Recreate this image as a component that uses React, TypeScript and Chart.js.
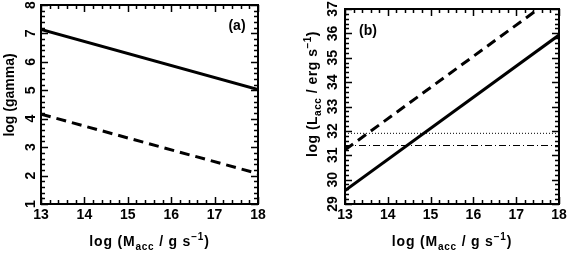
import React, { useEffect, useRef } from "react";
import { Chart, registerables } from "chart.js";
Chart.register(...registerables);

// ---- data ----
const massRate = [13, 18];
const gammaSolid = [7.14, 5.03];
const gammaDashed = [4.16, 2.07];
const lumSolid = [29.55, 35.93];
const lumDashed = [31.22, 37.62];
const lumDotted = [31.9, 31.9];
const lumDashDot = [31.4, 31.4];
const xTickLabels = [13, 14, 15, 16, 17, 18];
const gammaTickLabels = [1, 2, 3, 4, 5, 6, 7, 8];
const lumTickLabels = [29, 30, 31, 32, 33, 34, 35, 36, 37];

const W = 569;
const H = 254;
const FONT = "'Liberation Sans', Arial, sans-serif";

type Seg = { t: string; s?: number; dy?: number };

const xTitle: Seg[] = [
  { t: "log (M" },
  { t: "acc", s: 10, dy: 4 },
  { t: " / g s" },
  { t: "\u22121", s: 10, dy: -6 },
  { t: ")" },
];
const gammaTitle: Seg[] = [{ t: "log (gamma)" }];
const lumTitle: Seg[] = [
  { t: "log (L" },
  { t: "acc", s: 10, dy: 4 },
  { t: " / erg s" },
  { t: "\u22121", s: 10, dy: -6 },
  { t: ")" },
];

function drawRich(ctx: CanvasRenderingContext2D, segs: Seg[], cx: number, cy: number, spacing: number) {
  ctx.textBaseline = "alphabetic";
  ctx.textAlign = "left";
  (ctx as any).letterSpacing = `${spacing}px`;
  let total = 0;
  for (const s of segs) {
    ctx.font = `bold ${s.s ?? 14}px ${FONT}`;
    total += ctx.measureText(s.t).width;
  }
  let x = cx - total / 2;
  for (const s of segs) {
    ctx.font = `bold ${s.s ?? 14}px ${FONT}`;
    ctx.fillText(s.t, x, cy + 5 + (s.dy ?? 0));
    x += ctx.measureText(s.t).width;
  }
  (ctx as any).letterSpacing = "0px";
}

type PanelCfg = {
  yTicks: number[];
  yMin: number;
  yMax: number;
  yTitle: Seg[];
  yTitlePos: [number, number];
  yTitleSpacing: number;
  yLabelX: number;
  label: string;
  labelPos: [number, number];
};

function makePlugin(cfg: PanelCfg) {
  return {
    id: "frameAxes",
    afterDatasetsDraw(chart: any) {
      const ctx: CanvasRenderingContext2D = chart.ctx;
      const xs = chart.scales.x;
      const ys = chart.scales.y;
      const { left, right, top, bottom } = chart.chartArea;
      ctx.save();
      ctx.strokeStyle = "#000";
      ctx.fillStyle = "#000";
      // frame
      ctx.lineWidth = 2;
      ctx.strokeRect(left, top, right - left, bottom - top);
      // ticks
      ctx.lineWidth = 1.5;
      const major = 7;
      const minor = 4;
      const x0 = xTickLabels[0];
      const x1 = xTickLabels[xTickLabels.length - 1];
      const nx = Math.round((x1 - x0) / 0.2);
      ctx.beginPath();
      for (let i = 0; i <= nx; i++) {
        const v = x0 + i * 0.2;
        const len = i % 5 === 0 ? major : minor;
        const px = Math.round(xs.getPixelForValue(v)) + 0.5;
        ctx.moveTo(px, bottom);
        ctx.lineTo(px, bottom - len);
        ctx.moveTo(px, top);
        ctx.lineTo(px, top + len);
      }
      const ny = Math.round((cfg.yMax - cfg.yMin) / 0.2);
      for (let i = 0; i <= ny; i++) {
        const v = cfg.yMin + i * 0.2;
        const len = i % 5 === 0 ? major : minor;
        const py = Math.round(ys.getPixelForValue(v)) + 0.5;
        ctx.moveTo(left, py);
        ctx.lineTo(left + len, py);
        ctx.moveTo(right, py);
        ctx.lineTo(right - len, py);
      }
      ctx.stroke();
      // x tick labels
      ctx.font = `bold 14px ${FONT}`;
      ctx.textAlign = "center";
      ctx.textBaseline = "middle";
      for (const v of xTickLabels) {
        ctx.fillText(String(v), xs.getPixelForValue(v), bottom + 11);
      }
      // y tick labels (rotated)
      for (const v of cfg.yTicks) {
        const py = ys.getPixelForValue(v);
        ctx.save();
        ctx.translate(cfg.yLabelX, py);
        ctx.rotate(-Math.PI / 2);
        ctx.textAlign = "center";
        ctx.textBaseline = "middle";
        ctx.fillText(String(v), 0, 0);
        ctx.restore();
      }
      // x title
      drawRich(ctx, xTitle, (left + right) / 2, 241, 0.8);
      // y title
      ctx.save();
      ctx.translate(cfg.yTitlePos[0], cfg.yTitlePos[1]);
      ctx.rotate(-Math.PI / 2);
      drawRich(ctx, cfg.yTitle, 0, 0, cfg.yTitleSpacing);
      ctx.restore();
      // panel label
      ctx.font = `bold 14px ${FONT}`;
      ctx.textAlign = "center";
      ctx.textBaseline = "middle";
      ctx.fillText(cfg.label, cfg.labelPos[0], cfg.labelPos[1]);
      ctx.restore();
    },
  };
}

function pts(ys: number[]) {
  return massRate.map((x, i) => ({ x, y: ys[i] }));
}

function lineDs(ys: number[], width: number, dash: number[]) {
  return {
    data: pts(ys),
    borderColor: "#000",
    borderWidth: width,
    borderDash: dash,
    borderCapStyle: "butt",
    pointRadius: 0,
    fill: false,
    tension: 0,
  };
}

function baseOptions(pad: any, yMin: number, yMax: number) {
  return {
    responsive: false,
    animation: false,
    devicePixelRatio: 1,
    layout: { padding: pad },
    plugins: { legend: { display: false }, tooltip: { enabled: false } },
    scales: {
      x: { type: "linear", min: 13, max: 18, display: false },
      y: { type: "linear", min: yMin, max: yMax, display: false },
    },
  };
}

export default function App() {
  const refA = useRef<HTMLCanvasElement>(null);
  const refB = useRef<HTMLCanvasElement>(null);

  useEffect(() => {
    const a = new Chart(refA.current as HTMLCanvasElement, {
      type: "line",
      data: {
        datasets: [lineDs(gammaSolid, 3, []), lineDs(gammaDashed, 3, [10, 6])] as any,
      },
      options: baseOptions({ left: 41, right: W - 258, top: 5, bottom: H - 204 }, 1, 8) as any,
      plugins: [
        makePlugin({
          yTicks: gammaTickLabels,
          yMin: 1,
          yMax: 8,
          yTitle: gammaTitle,
          yTitlePos: [9, 95],
          yTitleSpacing: 0,
          yLabelX: 31,
          label: "(a)",
          labelPos: [237, 26],
        }),
      ],
    });
    const b = new Chart(refB.current as HTMLCanvasElement, {
      type: "line",
      data: {
        datasets: [
          lineDs(lumSolid, 3, []),
          lineDs(lumDashed, 3, [10, 6]),
          lineDs(lumDotted, 1, [1, 2]),
          lineDs(lumDashDot, 1.2, [7, 3, 1, 3]),
        ] as any,
      },
      options: baseOptions({ left: 345, right: W - 559, top: 9, bottom: H - 204 }, 29, 37) as any,
      plugins: [
        makePlugin({
          yTicks: lumTickLabels,
          yMin: 29,
          yMax: 37,
          yTitle: lumTitle,
          yTitlePos: [312, 94],
          yTitleSpacing: 0.5,
          yLabelX: 333,
          label: "(b)",
          labelPos: [368, 31],
        }),
      ],
    });
    return () => {
      a.destroy();
      b.destroy();
    };
  }, []);

  const cs: React.CSSProperties = { position: "absolute", left: 0, top: 0 };
  return (
    <div style={{ position: "fixed", left: 0, top: 0, width: W, height: H, background: "#fff" }}>
      <canvas ref={refA} width={W} height={H} style={cs} />
      <canvas ref={refB} width={W} height={H} style={cs} />
    </div>
  );
}
